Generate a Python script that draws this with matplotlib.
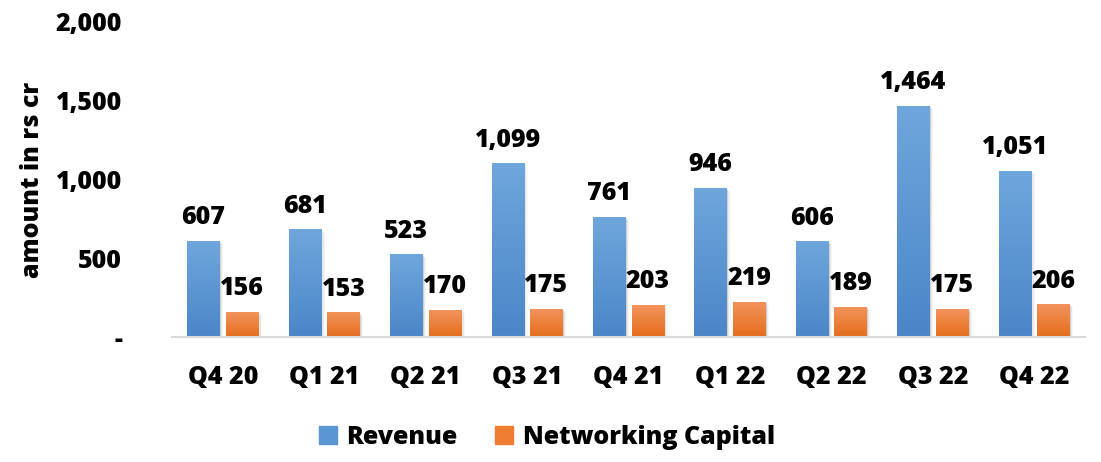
import numpy as np
import matplotlib
matplotlib.use("Agg")
import matplotlib.pyplot as plt
from matplotlib.colors import LinearSegmentedColormap
from matplotlib.ticker import FuncFormatter
from matplotlib.patches import Patch

quarters = ["Q4 20", "Q1 21", "Q2 21", "Q3 21", "Q4 21", "Q1 22", "Q2 22", "Q3 22", "Q4 22"]
revenue = [607, 681, 523, 1099, 761, 946, 606, 1464, 1051]
networking_capital = [156, 153, 170, 175, 203, 219, 189, 175, 206]

plt.rcParams['font.family'] = ['Open Sans', 'DejaVu Sans']
plt.rcParams['font.weight'] = 'bold'
FS = 18

fig = plt.figure(figsize=(11.01, 4.62), dpi=100)
ax = fig.add_axes([172 / 1101, 1 - 337 / 462, 913 / 1101, (337 - 22) / 462])

width = 0.32
offset = 0.19
x = np.arange(len(quarters))

blue_cmap = LinearSegmentedColormap.from_list("b", ["#4a86c8", "#6fa6dc"])
orange_cmap = LinearSegmentedColormap.from_list("o", ["#e56d1c", "#f2935c"])
grad = np.linspace(0, 1, 256).reshape(-1, 1)


def gradient_bars(xs, heights, cmap):
    for xi, h in zip(xs, heights):
        # soft shadow behind each bar
        for k, a in enumerate([0.10, 0.06, 0.03]):
            ax.bar(xi + 0.012 * (k + 1), h, width=width, bottom=-6 * (k + 1),
                   color="black", alpha=a, zorder=1, linewidth=0)
        ax.imshow(grad, cmap=cmap, aspect="auto", origin="lower",
                  extent=(xi - width / 2, xi + width / 2, 0, h), zorder=2)
        ax.text(xi, h + 70, f"{h:,}", ha="center", va="bottom", fontsize=FS,
                fontweight="heavy", zorder=3)


gradient_bars(x - offset, revenue, blue_cmap)
gradient_bars(x + offset, networking_capital, orange_cmap)

ax.set_xlim(-0.5, len(quarters) - 0.5)
ax.set_ylim(0, 2000)
ax.set_yticks([0, 500, 1000, 1500, 2000])
ax.yaxis.set_major_formatter(FuncFormatter(lambda v, p: "-" if v == 0 else f"{int(v):,}"))
ax.set_xticks(x)
ax.set_xticklabels(quarters)
ax.tick_params(axis="both", length=0, labelsize=FS)
ax.tick_params(axis="x", pad=20)
ax.tick_params(axis="y", pad=36)
for lab in ax.get_xticklabels() + ax.get_yticklabels():
    lab.set_fontweight("heavy")

for s in ["top", "right", "left"]:
    ax.spines[s].set_visible(False)
ax.spines["bottom"].set_color("#d9d9d9")
ax.spines["bottom"].set_linewidth(1.5)

ax.set_ylabel("amount in rs cr", fontsize=FS, fontweight="heavy", labelpad=8)

# legend with square patches
handles = [Patch(color="#5b96d4", label="Revenue"), Patch(color="#ee7d31", label="Networking Capital")]
fig.legend(handles=handles, loc="center", bbox_to_anchor=(547 / 1101, 1 - 437 / 462),
           ncol=2, frameon=False, prop={"size": FS, "weight": "heavy"},
           handlelength=0.7, handleheight=0.7, columnspacing=1.5, handletextpad=0.4)

fig.savefig("out.png", dpi=100)
